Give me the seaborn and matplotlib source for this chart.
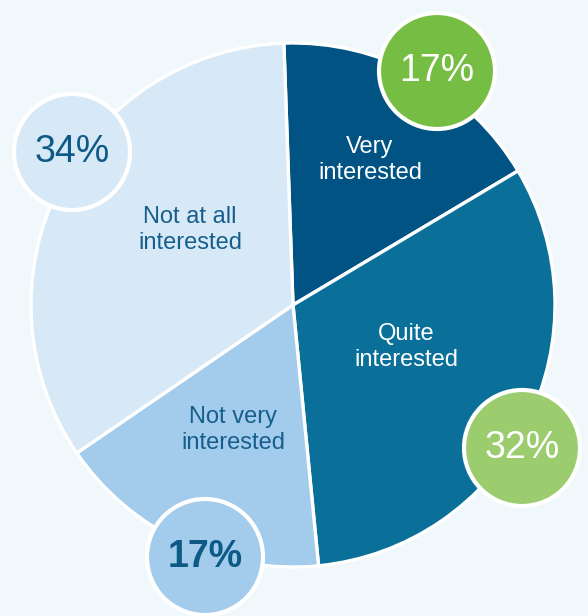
import matplotlib
matplotlib.use("Agg")
import matplotlib.pyplot as plt
from matplotlib.patches import Circle
import seaborn as sns

categories = ["Very\ninterested", "Quite\ninterested", "Not very\ninterested", "Not at all\ninterested"]
values = [17, 32, 17, 34]
pct_labels = ["17%", "32%", "17%", "34%"]

slice_colors = ["#005383", "#0A7099", "#A2CBEC", "#D7E9F7"]
label_colors = ["white", "white", "#175E8C", "#175E8C"]
badge_colors = ["#76BD43", "#9BCD6F", "#A2CBEC", "#D7E9F7"]
badge_text_colors = ["white", "white", "#0E5A87", "#0E5A87"]
badge_weights = ["normal", "normal", "bold", "normal"]

sns.set_style("white")
plt.rcParams['font.family'] = ['Liberation Sans', 'DejaVu Sans']

W, H = 588, 616
fig = plt.figure(figsize=(W / 100, H / 100), dpi=100)
fig.patch.set_facecolor("#F1F8FB")
ax = fig.add_axes([0, 0, 1, 1])
ax.set_facecolor("#F1F8FB")

cx, cy, r = 293, H - 305, 262
palette = sns.color_palette(slice_colors)
ax.pie(values, colors=palette, startangle=92, counterclock=False,
       center=(cx, cy), radius=r, frame=True,
       wedgeprops=dict(edgecolor="white", linewidth=2.4))
ax.set_xlim(0, W)
ax.set_ylim(0, H)
ax.set_aspect("equal")
ax.axis("off")

label_pos = [(370, 160), (406, 347), (233, 430), (190, 230)]
for txt, (x, y), c in zip(categories, label_pos, label_colors):
    ax.text(x, H - y, txt, ha="center", va="center", fontsize=17,
            color=c, linespacing=1.2)

badge_pos = [(437, 71), (522, 448), (205, 557), (72, 152)]
for txt, (x, y), fc, tc, fw in zip(pct_labels, badge_pos, badge_colors,
                                   badge_text_colors, badge_weights):
    ax.add_patch(Circle((x, H - y), 58, facecolor=fc, edgecolor="white",
                        linewidth=3, zorder=5))
    ax.text(x, H - y, txt, ha="center", va="center", fontsize=27,
            color=tc, fontweight=fw, zorder=6)

fig.savefig("out.png", dpi=100, facecolor=fig.get_facecolor())
